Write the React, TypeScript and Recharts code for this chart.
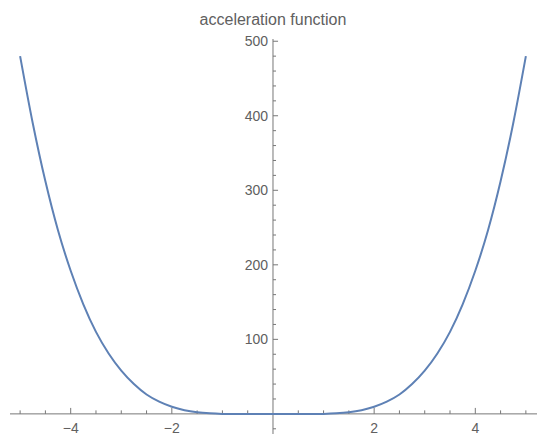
import React from 'react';
import { LineChart, Line, XAxis, YAxis, ReferenceLine } from 'recharts';

// x positions sampled
const xValues = [
  -5, -4.75, -4.5, -4.25, -4, -3.75, -3.5, -3.25, -3, -2.75, -2.5, -2.25, -2, -1.75, -1.5, -1.25, -1, -0.75, -0.5, -0.25,
  0, 0.25, 0.5, 0.75, 1, 1.25, 1.5, 1.75, 2, 2.25, 2.5, 2.75, 3, 3.25, 3.5, 3.75, 4, 4.25, 4.5, 4.75, 5,
];
// acceleration values
const accelValues = [
  480, 390, 312, 246, 192, 147, 110, 81, 58, 40, 26, 16.4, 9.6, 5, 2.2, 0.7, 0, -0.2, -0.15, -0.05,
  0, -0.05, -0.15, -0.2, 0, 0.7, 2.2, 5, 9.6, 16.4, 26, 40, 58, 81, 110, 147, 192, 246, 312, 390, 480,
];

const xMajorTicks = [-4, -2, 2, 4];
const xMinorTicks = [-5, -4.5, -3.5, -3, -2.5, -1.5, -1, -0.5, 0.5, 1, 1.5, 2.5, 3, 3.5, 4.5, 5];
const yMajorTicks = [100, 200, 300, 400, 500];
const yMinorTicks = [
  -20, 20, 40, 60, 80, 120, 140, 160, 180, 220, 240, 260, 280, 320, 340, 360, 380, 420, 440, 460, 480,
];

const title = 'acceleration function';

const data = xValues.map((x, i) => ({ x, y: accelValues[i] }));

const AXIS = '#777';
const TEXT = '#606060';
const FONT = '"Liberation Sans", Arial, sans-serif';

export default function App() {
  return (
    <div style={{ position: 'absolute', left: 0, top: 0, width: 550, height: 445, background: '#fff' }}>
      <div
        style={{
          position: 'absolute',
          left: -2,
          top: 10,
          width: 550,
          textAlign: 'center',
          fontFamily: FONT,
          fontSize: 16,
          lineHeight: '20px',
          color: TEXT,
        }}
      >
        {title}
      </div>
      <LineChart width={550} height={445} data={data} margin={{ top: 39, right: 13, bottom: 11, left: 10 }}>
        <XAxis dataKey="x" type="number" domain={[-5.2, 5.22]} hide allowDataOverflow />
        <YAxis type="number" domain={[-27, 503]} hide allowDataOverflow />
        <ReferenceLine y={0} stroke={AXIS} strokeWidth={1} />
        <ReferenceLine x={0} stroke={AXIS} strokeWidth={1} />
        {xMinorTicks.map((v) => (
          <ReferenceLine
            key={'xm' + v}
            segment={[
              { x: v, y: 0 },
              { x: v, y: 4.7 },
            ]}
            stroke={AXIS}
          />
        ))}
        {xMajorTicks.map((v) => (
          <ReferenceLine
            key={'xM' + v}
            segment={[
              { x: v, y: 0 },
              { x: v, y: 8 },
            ]}
            stroke={AXIS}
            label={{
              value: v < 0 ? '\u2212' + Math.abs(v) : String(v),
              position: 'bottom',
              offset: 9,
              fill: TEXT,
              fontSize: 14,
              fontFamily: FONT,
            }}
          />
        ))}
        {yMinorTicks.map((v) => (
          <ReferenceLine
            key={'ym' + v}
            segment={[
              { x: 0, y: v },
              { x: 0.06, y: v },
            ]}
            stroke={AXIS}
          />
        ))}
        {yMajorTicks.map((v) => (
          <ReferenceLine
            key={'yM' + v}
            segment={[
              { x: 0, y: v },
              { x: 0.1, y: v },
            ]}
            stroke={AXIS}
            label={{
              value: String(v),
              position: 'left',
              offset: 5,
              fill: TEXT,
              fontSize: 14,
              fontFamily: FONT,
            }}
          />
        ))}
        <Line
          dataKey="y"
          type="monotone"
          stroke="#5E81B5"
          strokeWidth={2}
          dot={false}
          isAnimationActive={false}
        />
      </LineChart>
    </div>
  );
}
